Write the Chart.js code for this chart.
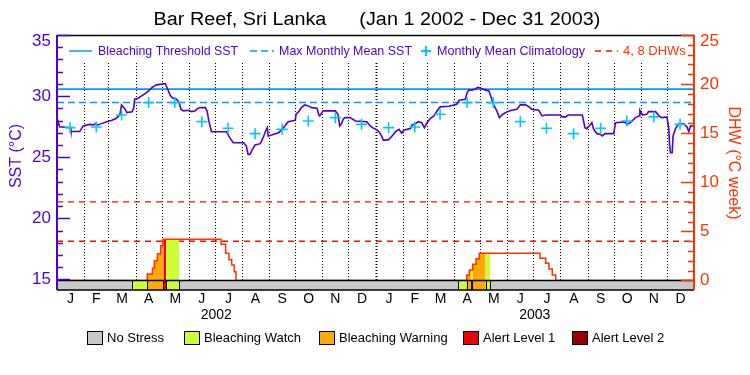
<!DOCTYPE html>
<html><head><meta charset="utf-8">
<script src="https://cdn.jsdelivr.net/npm/chart.js@4/dist/chart.umd.min.js"></script>
<style>html,body{margin:0;padding:0;background:#fff;}#wrap{width:750px;height:375px;}</style>
</head><body><div id="wrap"><canvas id="c" width="750" height="375"></canvas></div>
<script>
// ---------------- DATA ----------------
const titleText = 'Bar Reef, Sri Lanka      (Jan 1 2002 - Dec 31 2003)';
const monthLabels = ['J','F','M','A','M','J','J','A','S','O','N','D','J','F','M','A','M','J','J','A','S','O','N','D'];
const monthStartDays = [0,31,59,90,120,151,181,212,243,273,304,334,365,396,424,455,485,516,546,577,608,638,669,699,730];
const yearLabels = ['2002','2003'];
const yearStartDays = [0,365,730];
const sstTicks = [15,20,25,30,35];
const dhwTicks = [0,5,10,15,20,25];

// daily SST (deg C), day 0 = Jan 1 2002
const sstDays = [0,1,3,15,16,26,30,34,38,42,44,47,51,57,63,68,72,74,78,80,86,88,89,93,97,101,105,109,112,114,120,124,126,130,133,137,140,142,145,151,154,158,161,164,170,172,174,177,194,198,202,214,217,219,221,224,227,233,237,239,241,242,246,250,254,258,261,265,269,273,274,277,280,284,288,292,298,300,301,305,319,322,324,326,328,330,336,342,355,359,362,365,369,372,374,380,384,388,392,395,397,401,405,407,411,414,418,421,424,428,432,436,439,449,455,458,461,468,470,472,476,479,482,486,491,495,497,500,504,507,511,516,521,527,530,531,537,541,544,552,556,560,577,579,583,586,602,605,607,611,613,615,619,623,625,628,638,640,651,653,657,663,667,668,671,676,678,686,690,693,699,701,702,703,705,706,709,712,718,722,724,726,729,730];
const sstValues = [27.70,27.97,27.50,27.42,27.10,27.10,27.56,27.64,27.69,27.64,27.75,27.64,27.75,27.91,28.02,28.19,28.46,29.28,28.93,28.65,28.71,29.06,29.75,29.83,30.02,30.21,30.43,30.71,30.84,30.92,30.98,31.03,30.71,30.02,29.83,29.75,29.47,28.93,28.79,28.84,28.73,28.79,28.98,29.06,29.06,28.79,27.97,27.09,27.09,26.60,26.19,26.19,25.92,25.23,25.23,25.64,26.00,26.11,26.74,27.15,27.42,26.74,26.82,26.93,27.01,27.28,27.56,27.91,27.97,28.02,28.52,28.73,29.06,29.28,29.20,29.06,29.01,28.46,28.38,28.79,28.79,28.52,27.56,27.75,28.11,28.24,28.24,27.97,27.91,27.56,27.40,27.30,27.09,26.74,26.38,26.44,26.74,27.09,27.28,26.96,27.20,27.28,27.34,27.64,27.75,27.91,27.83,27.42,27.83,28.19,28.38,28.84,29.12,29.17,29.28,29.34,29.67,29.75,30.29,30.49,30.51,30.57,30.71,30.65,30.49,30.43,30.02,29.34,28.79,28.24,28.52,28.73,28.84,28.93,29.20,29.28,29.28,29.12,28.93,28.84,28.38,28.46,28.46,28.30,28.30,28.46,28.46,27.42,27.34,27.64,27.83,27.28,26.93,26.87,26.74,26.93,26.93,27.83,27.89,27.69,27.83,28.24,28.38,28.84,28.46,28.52,28.73,28.73,28.38,28.24,28.30,27.42,26.05,25.37,25.37,26.74,27.37,27.69,27.75,27.48,27.09,27.56,27.56,27.48];

// monthly mean climatology, plotted mid-month
const climDays = [15,45,74,105,135,166,196,227,258,288,319,349,380,410,439,470,500,531,561,592,623,653,684,714];
const climValues = [27.42,27.48,28.46,29.47,29.47,27.91,27.37,26.93,27.28,27.97,28.24,27.69,27.42,27.48,28.52,29.47,29.47,27.91,27.37,26.93,27.37,27.97,28.30,27.69];

const bleachingThreshold = 30.57;
const maxMonthlyMean = 29.48;
const dhwLevels = [4, 8];

// Degree heating weeks (step changes at given day)
const dhwDays   = [0,103.5,109.3,111.5,115.0,118.8,121.1,121.8,188.0,193.3,197.1,200.2,203.2,205.1,469.5,472.5,476.4,480.2,484.0,553.5,560.0,563.8,567.6,571.5,730];
const dhwValues = [0,0.66,1.25,2.02,2.71,3.53,4.10,4.20,3.70,2.78,2.10,1.58,0.90,0,0.56,1.07,1.65,2.20,2.78,2.27,1.76,1.18,0.56,0,0];

// Stress level periods (others: No Stress)
const stressNames = ['No Stress','Bleaching Watch','Bleaching Warning','Alert Level 1','Alert Level 2'];
const stressStart = [86.3,103.5,121.8,124.9,459.9,469.5,474.4,475.9,491.3];
const stressEnd   = [103.5,121.8,124.9,139.8,469.5,474.4,475.9,491.3,496.6];
const stressLevel = [1,2,3,1,1,2,1,2,1];

// ---------------- STYLE ----------------
const PURPLE = '#5000c8', ORANGE = '#ff3300', BLUE = '#0099ff', CYAN = '#00c8ff', DRED = '#ee1100';
const stressColors = ['#c8c8c8','#ccff33','#ffaa00','#ee0000','#990000'];
const FONT = '"Liberation Sans", Arial, sans-serif';

// ---------------- BUILD ----------------
function dhwAt(t){ let v = 0; for (let i=0;i<dhwDays.length;i++){ if (dhwDays[i] <= t) v = dhwValues[i]; } return v; }
const sstData = sstDays.map((d,i)=>({x:d,y:sstValues[i]}));
const climData = climDays.map((d,i)=>({x:d,y:climValues[i]}));
const dhwData = dhwDays.map((d,i)=>({x:d,y:dhwValues[i]}));

const fillSets = stressStart.map((s,i)=>{
  const e = stressEnd[i];
  const pts = [{x:s,y:dhwAt(s)}];
  dhwDays.forEach((d,j)=>{ if (d> s && d< e) pts.push({x:d,y:dhwValues[j]}); });
  pts.push({x:e,y:pts[pts.length-1].y});
  return {type:'line', data:pts, yAxisID:'y2', stepped:'before', fill:'origin',
    backgroundColor: stressColors[stressLevel[i]], borderWidth:0, pointRadius:0, order:5};
});

const datasets = [
  {type:'scatter', data:climData, yAxisID:'y', pointStyle:'cross', pointRadius:5.5, borderColor:CYAN, borderWidth:1.6, backgroundColor:CYAN, order:0, showLine:false},
  {type:'line', data:sstData, yAxisID:'y', borderColor:PURPLE, borderWidth:1.6, pointRadius:0, tension:0, order:1, fill:false},
  {type:'line', data:dhwData, yAxisID:'y2', borderColor:ORANGE, borderWidth:1.5, pointRadius:0, stepped:'before', order:2, fill:false},
  ...fillSets,
  {type:'line', data:[{x:0,y:bleachingThreshold},{x:730,y:bleachingThreshold}], yAxisID:'y', borderColor:BLUE, borderWidth:1.6, pointRadius:0, order:8},
  {type:'line', data:[{x:0,y:maxMonthlyMean},{x:730,y:maxMonthlyMean}], yAxisID:'y', borderColor:BLUE, borderWidth:1.6, borderDash:[7,4], pointRadius:0, order:8},
  ...dhwLevels.map(v=>({type:'line', data:[{x:0,y:v},{x:730,y:v}], yAxisID:'y2', borderColor:DRED, borderWidth:1.4, borderDash:[6,5], pointRadius:0, order:8}))
];

const deco = {
  id:'deco',
  beforeDatasetsDraw(chart){
    const ctx = chart.ctx, xs = chart.scales.x, y2 = chart.scales.y2, a = chart.chartArea;
    ctx.save();
    ctx.strokeStyle = '#000';
    ctx.setLineDash([1,2]);
    for (let i=1;i<monthStartDays.length-1;i++){
      const x = Math.round(xs.getPixelForValue(monthStartDays[i])) + 0.5;
      ctx.lineWidth = (monthStartDays[i]===yearStartDays[1]) ? 2 : 1;
      ctx.beginPath(); ctx.moveTo(x, a.top+28); ctx.lineTo(x, y2.getPixelForValue(0)); ctx.stroke();
    }
    ctx.restore();
  },
  afterDatasetsDraw(chart){
    const ctx = chart.ctx, xs = chart.scales.x, ys = chart.scales.y, y2 = chart.scales.y2, a = chart.chartArea;
    ctx.save();
    // stress band
    const bTop = Math.round(y2.getPixelForValue(0))+0.5, bBot = a.bottom;
    ctx.fillStyle = stressColors[0];
    ctx.fillRect(a.left, bTop, a.right-a.left, bBot-bTop);
    ctx.lineWidth = 1; ctx.strokeStyle = '#000';
    stressStart.forEach((s,i)=>{
      const x0 = xs.getPixelForValue(s), x1 = xs.getPixelForValue(stressEnd[i]);
      ctx.fillStyle = stressColors[stressLevel[i]];
      ctx.fillRect(x0, bTop, x1-x0, bBot-bTop);
      ctx.beginPath(); ctx.moveTo(Math.round(x0)+0.5,bTop); ctx.lineTo(Math.round(x0)+0.5,bBot);
      ctx.moveTo(Math.round(x1)+0.5,bTop); ctx.lineTo(Math.round(x1)+0.5,bBot); ctx.stroke();
    });
    ctx.lineWidth = 1.5;
    ctx.beginPath(); ctx.moveTo(a.left,bTop); ctx.lineTo(a.right,bTop);
    ctx.moveTo(a.left,bBot); ctx.lineTo(a.right,bBot); ctx.stroke();
    // top frame
    ctx.beginPath(); ctx.moveTo(a.left,a.top+0.5); ctx.lineTo(a.right,a.top+0.5); ctx.stroke();
    // left axis
    ctx.strokeStyle = PURPLE; ctx.lineWidth = 2;
    ctx.beginPath(); ctx.moveTo(a.left,a.top); ctx.lineTo(a.left,a.bottom); ctx.stroke();
    ctx.lineWidth = 1.5;
    for (let v=15; v<=35; v++){
      const y = Math.round(ys.getPixelForValue(v))+0.5, len = (v%5===0)?13:6;
      ctx.beginPath(); ctx.moveTo(a.left,y); ctx.lineTo(a.left+len,y); ctx.stroke();
    }
    // right axis
    ctx.strokeStyle = ORANGE; ctx.lineWidth = 2;
    ctx.beginPath(); ctx.moveTo(a.right,a.top); ctx.lineTo(a.right,a.bottom); ctx.stroke();
    ctx.lineWidth = 1.5;
    for (let v=0; v<=25; v++){
      const y = Math.round(y2.getPixelForValue(v))+0.5, len = (v%5===0)?13:6;
      ctx.beginPath(); ctx.moveTo(a.right-len,y); ctx.lineTo(a.right,y); ctx.stroke();
    }
    // tick labels
    ctx.font = '17px '+FONT; ctx.textBaseline = 'middle';
    ctx.fillStyle = PURPLE; ctx.textAlign = 'right';
    sstTicks.forEach(v=>{ ctx.fillText(String(v), a.left-6, Math.max(ys.getPixelForValue(v), a.top+6)); });
    ctx.fillStyle = ORANGE; ctx.textAlign = 'left';
    dhwTicks.forEach(v=>{ ctx.fillText(String(v), a.right+6, Math.max(y2.getPixelForValue(v), a.top+6)); });
    // axis titles
    ctx.font = '16px '+FONT; ctx.textAlign = 'center';
    ctx.save(); ctx.translate(17, 156); ctx.rotate(-Math.PI/2); ctx.fillStyle = PURPLE; ctx.fillText('SST (°C)',0,0); ctx.restore();
    ctx.save(); ctx.translate(733, 163); ctx.rotate(Math.PI/2); ctx.fillStyle = ORANGE; ctx.fillText('DHW (°C week)',0,0); ctx.restore();
    // month & year labels
    ctx.fillStyle = '#000'; ctx.font = '14px '+FONT; ctx.textAlign = 'center';
    for (let i=0;i<monthLabels.length;i++){
      const x = xs.getPixelForValue((monthStartDays[i]+monthStartDays[i+1])/2);
      ctx.fillText(monthLabels[i], x, a.bottom+9);
    }
    for (let i=0;i<yearLabels.length;i++){
      const x = xs.getPixelForValue((yearStartDays[i]+yearStartDays[i+1])/2);
      ctx.fillText(yearLabels[i], x, a.bottom+25);
    }
    // title (slightly wide lettering like the reference)
    ctx.save(); ctx.translate(377, 20); ctx.scale(1.1, 1);
    ctx.font = '18px '+FONT; ctx.fillText(titleText, 0, 0); ctx.restore();
    // top legend
    const ly = 51;
    ctx.font = '13px '+FONT; ctx.textAlign = 'left';
    ctx.lineWidth = 1.5; ctx.strokeStyle = BLUE;
    ctx.beginPath(); ctx.moveTo(69,ly); ctx.lineTo(92,ly); ctx.stroke();
    ctx.fillStyle = PURPLE; ctx.fillText('Bleaching Threshold SST', 98, ly, 140);
    ctx.setLineDash([7,4]); ctx.beginPath(); ctx.moveTo(250,ly); ctx.lineTo(274,ly); ctx.stroke(); ctx.setLineDash([]);
    ctx.fillText('Max Monthly Mean SST', 279, ly, 133);
    ctx.strokeStyle = CYAN; ctx.lineWidth = 2;
    ctx.beginPath(); ctx.moveTo(421,ly); ctx.lineTo(431,ly); ctx.moveTo(426,ly-5); ctx.lineTo(426,ly+5); ctx.stroke();
    ctx.fillText('Monthly Mean Climatology', 437, ly, 148);
    ctx.strokeStyle = DRED; ctx.lineWidth = 1.5; ctx.setLineDash([6,5]);
    ctx.beginPath(); ctx.moveTo(595,ly); ctx.lineTo(618,ly); ctx.stroke(); ctx.setLineDash([]);
    ctx.fillStyle = ORANGE; ctx.fillText('4, 8 DHWs', 623, ly, 63);
    // bottom legend
    const bx = [87,184,319,463,572], by = 337;
    ctx.font = '13px '+FONT; ctx.lineWidth = 1;
    stressNames.forEach((n,i)=>{
      ctx.fillStyle = stressColors[i]; ctx.fillRect(bx[i], by-6, 15, 13);
      ctx.strokeStyle = '#000'; ctx.strokeRect(bx[i]+0.5, by-6+0.5, 15, 13);
      ctx.fillStyle = '#000'; ctx.fillText(n, bx[i]+20, by+1);
    });
    ctx.restore();
  }
};

new Chart(document.getElementById('c'), {
  type:'line',
  data:{datasets},
  options:{
    responsive:false, animation:false, parsing:true,
    layout:{padding:{left:57, right:56, top:35, bottom:85}},
    plugins:{legend:{display:false}, tooltip:{enabled:false}, title:{display:false}},
    scales:{
      x:{type:'linear', min:0, max:730, display:false},
      y:{type:'linear', min:14.14, max:35, display:false},
      y2:{type:'linear', min:-0.97, max:25, display:false}
    }
  },
  plugins:[deco]
});
</script>
</body></html>
